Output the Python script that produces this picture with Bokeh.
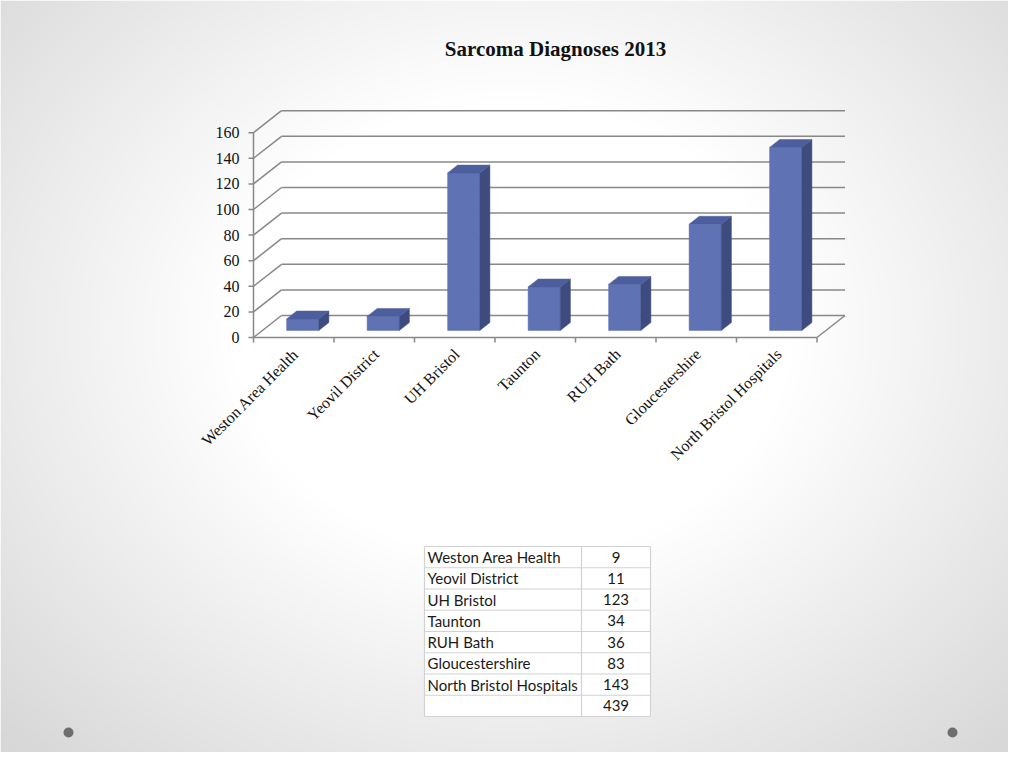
import numpy as np
from math import pi
from bokeh.plotting import figure
from bokeh.models import Range1d
from bokeh.core.properties import value
from bokeh.embed import file_html
from bokeh.resources import INLINE

# ---------------- data ----------------
title_text = "Sarcoma Diagnoses 2013"
categories = ["Weston Area Health", "Yeovil District", "UH Bristol", "Taunton",
              "RUH Bath", "Gloucestershire", "North Bristol Hospitals"]
diagnoses = [9, 11, 123, 34, 36, 83, 143]
y_ticks = [0, 20, 40, 60, 80, 100, 120, 140, 160]
table_total = sum(diagnoses)

# ---------------- layout / style ----------------
W, H = 1008, 752
X0_PX, Y0_PX = 253, 337          # position of the front-plane origin
PX_PER_CAT, PX_PER_VAL = 80.5, 1.28
DEPTH_PX_X, DEPTH_PX_Y = 28, 22  # 3-D depth offset of the back wall
BAR_F0, BAR_F1 = 0.32, 0.68      # bar front/back fraction of the depth
BAR_W = 0.4

SERIF = value("Liberation Serif")
SANS = value("Lato")
GRID = "#888888"
FRONT, SIDE, TOP = "#5E72B4", "#3D4B7E", "#4C5E9D"

n = len(categories)
DX = DEPTH_PX_X / PX_PER_CAT
DY = DEPTH_PX_Y / PX_PER_VAL

x_range = Range1d(-X0_PX / PX_PER_CAT, (W - X0_PX) / PX_PER_CAT)
y_range = Range1d(-(H - Y0_PX) / PX_PER_VAL, Y0_PX / PX_PER_VAL)

p = figure(width=W, height=H, x_range=x_range, y_range=y_range,
           output_backend="svg", toolbar_location=None,
           x_axis_type=None, y_axis_type=None, min_border=0)
p.outline_line_color = None
p.border_fill_color = "#ffffff"
p.extra_x_ranges = {"px": Range1d(0, W)}
p.extra_y_ranges = {"px": Range1d(0, H)}


def py(page_y):
    return H - page_y


# ---------------- slide background (radial gradient) ----------------
step = 2
gx = np.arange(0, W, step) + step / 2
gy_data = np.arange(0, H, step) + step / 2
GX, GY = np.meshgrid(gx, H - gy_data)
d = np.sqrt(((GX - 512) / 512) ** 2 + ((GY - 330) / 420) ** 2)
t = np.clip((d - 0.55) / 0.85, 0, 1)
g = (255 - 40 * t).astype(np.uint32)
img = (np.uint32(255) << 24) | (g << 16) | (g << 8) | g
p.image_rgba(image=[img], x=0, y=0, dw=W, dh=H,
             x_range_name="px", y_range_name="px")

# ---------------- 3-D chart walls ----------------
# left wall diagonals
p.segment(x0=[0] * len(y_ticks), y0=y_ticks, x1=[DX] * len(y_ticks),
          y1=[v + DY for v in y_ticks], line_color=GRID, line_width=1.5)
# back wall gridlines
p.segment(x0=[DX] * len(y_ticks), y0=[v + DY for v in y_ticks],
          x1=[n + DX] * len(y_ticks), y1=[v + DY for v in y_ticks],
          line_color=GRID, line_width=1.5)
# floor front edge and right edge
p.segment(x0=[0, n], y0=[0, 0], x1=[n, n + DX], y1=[0, DY],
          line_color=GRID, line_width=1.5)
# front value axis
p.segment(x0=[0], y0=[0], x1=[0], y1=[y_ticks[-1]], line_color=GRID, line_width=1.5)
# value ticks
tick_x = 5 / PX_PER_CAT
p.segment(x0=[0] * len(y_ticks), y0=y_ticks, x1=[-tick_x] * len(y_ticks), y1=y_ticks,
          line_color=GRID, line_width=1.5)
# category ticks
tick_y = 5 / PX_PER_VAL
p.segment(x0=list(range(n + 1)), y0=[0] * (n + 1), x1=list(range(n + 1)),
          y1=[-tick_y] * (n + 1), line_color=GRID, line_width=1.5)

# ---------------- bars ----------------
fx, fy, sx, sy, tx, ty = [], [], [], [], [], []
ddx = (BAR_F1 - BAR_F0) * DX
ddy = (BAR_F1 - BAR_F0) * DY
for i, v in enumerate(diagnoses):
    xc = i + 0.5 + BAR_F0 * DX
    yb = BAR_F0 * DY
    L, R = xc - BAR_W / 2, xc + BAR_W / 2
    top = yb + v
    fx.append([L, R, R, L]); fy.append([yb, yb, top, top])
    sx.append([R, R + ddx, R + ddx, R]); sy.append([yb, yb + ddy, top + ddy, top])
    tx.append([L, R, R + ddx, L + ddx]); ty.append([top, top, top + ddy, top + ddy])
p.patches(xs=fx, ys=fy, fill_color=FRONT, line_color=FRONT, line_width=0.5)
p.patches(xs=sx, ys=sy, fill_color=SIDE, line_color=SIDE, line_width=0.5)
p.patches(xs=tx, ys=ty, fill_color=TOP, line_color=TOP, line_width=0.5)

# ---------------- axis labels ----------------
p.text(x=[-14 / PX_PER_CAT] * len(y_ticks), y=y_ticks, text=[str(v) for v in y_ticks],
       text_align="right", text_baseline="middle", text_font=SERIF,
       text_font_size="16px", text_color="#111111")
p.text(x=[i + 0.5 + 2 / PX_PER_CAT for i in range(n)], y=[-14 / PX_PER_VAL] * n,
       text=categories, angle=pi / 4, text_align="right", text_baseline="middle",
       text_font=SERIF, text_font_size="16px", text_color="#111111")

# ---------------- title ----------------
p.text(x=[555], y=[py(48)], text=[title_text], text_align="center",
       text_baseline="middle", text_font=SERIF, text_font_size="21px",
       text_font_style="bold", text_color="#111111",
       x_range_name="px", y_range_name="px")

# ---------------- table ----------------
TL, TM, TR = 424, 581, 650
TT, ROW_H = 546, 21.25
rows = categories + [""]
vals = [str(v) for v in diagnoses] + [str(table_total)]
nr = len(rows)
p.quad(left=[TL], right=[TR], top=[py(TT)], bottom=[py(TT + nr * ROW_H)],
       fill_color="#ffffff", line_color=None, x_range_name="px", y_range_name="px")
hy = [py(TT + k * ROW_H) for k in range(nr + 1)]
p.segment(x0=[TL] * (nr + 1), y0=hy, x1=[TR] * (nr + 1), y1=hy,
          line_color="#d2d2d2", line_width=1.2, x_range_name="px", y_range_name="px")
p.segment(x0=[TL, TM, TR], y0=[py(TT)] * 3, x1=[TL, TM, TR],
          y1=[py(TT + nr * ROW_H)] * 3, line_color="#d2d2d2", line_width=1.2,
          x_range_name="px", y_range_name="px")
row_y = [py(TT + (k + 0.5) * ROW_H) for k in range(nr)]
p.text(x=[TL + 3] * nr, y=row_y, text=rows, text_align="left", text_baseline="middle",
       text_font=SANS, text_font_size="15px", text_color="#1a1a1a",
       x_range_name="px", y_range_name="px")
p.text(x=[(TM + TR) / 2] * nr, y=row_y, text=vals, text_align="center",
       text_baseline="middle", text_font=SANS, text_font_size="15px",
       text_color="#1a1a1a", x_range_name="px", y_range_name="px")

# ---------------- slide corner dots ----------------
p.scatter(x=[68, 952], y=[py(732), py(732)], size=10, fill_color="#6e6e6e",
          line_color=None, x_range_name="px", y_range_name="px")

open("out.html", "w").write(file_html(p, INLINE))
